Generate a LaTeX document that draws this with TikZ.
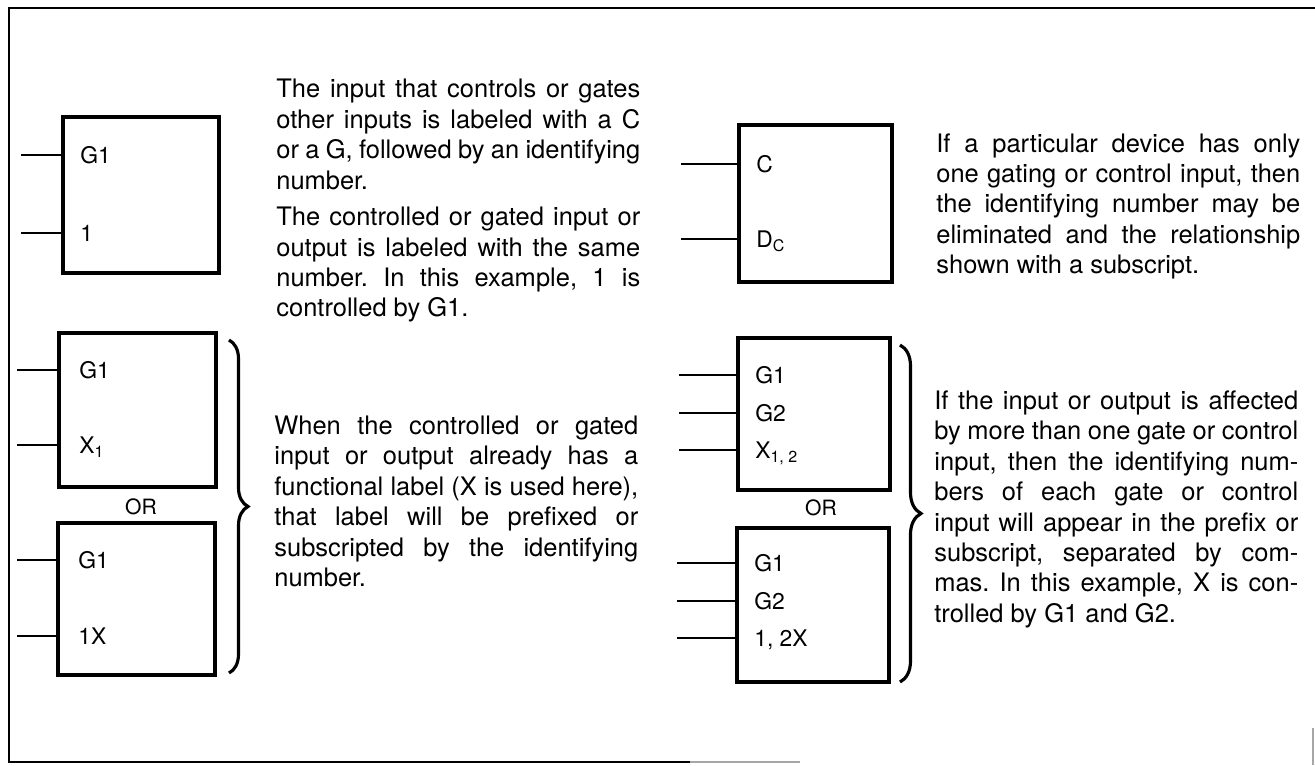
\documentclass[tikz,border=0pt]{standalone}
\usepackage{fontspec}
\setmainfont{TeX Gyre Heros}
\usetikzlibrary{decorations.pathreplacing}
\tolerance=9999
\hbadness=10000
\frenchspacing

\begin{document}
\begin{tikzpicture}[
  x=0.02cm, y=-0.02cm,
  blk/.style={draw=black, line width=2.4pt, inner sep=0pt},
  wire/.style={draw=black, line width=1.1pt},
  lbl/.style={anchor=base west, inner sep=0pt, font=\fontsize{13}{15}\selectfont},
  orl/.style={inner sep=0pt, font=\fontsize{12}{14}\selectfont},
  txt/.style={anchor=north west, inner sep=0pt, text width=7.28cm, align=justify,
              font=\fontsize{14.5}{17.3}\selectfont},
  brc/.style={draw=black, line width=1.8pt, decorate, decoration={brace, amplitude=#1}},
  frm/.style={draw=black, line width=1.5pt}
]
\useasboundingbox (0,0) rectangle (1315,765);

% ================================================= frame
\draw[frm] (690,762) -- (9,762) -- (9,8) -- (1315,8);
\draw[frm, draw=black!35] (690,762) -- (800,762);
\draw[frm, draw=black!35, line width=0.8pt] (1313,728) -- (1313,765);

% ================================================= 1. gate and gated input
\node[blk, minimum width=3.12cm, minimum height=3.12cm] (b1) at (141,195) {};
\node[lbl] (b1g) at (80,163) {G1};
\node[lbl] (b1n) at (80,241) {1};
\coordinate (i1a) at (21,155);
\coordinate (i1b) at (21,233);
\draw[wire] (i1a) -- (i1a -| b1.west);
\draw[wire] (i1b) -- (i1b -| b1.west);
\node[txt] (p1) at (276,79)
  {The input that controls or gates\linebreak
   other inputs is labeled with a C\linebreak
   or a G, followed by an identifying\linebreak
   number.\par\vspace{3.5pt}
   The controlled or gated input or\linebreak
   output is labeled with the same\linebreak
   number. In this example, 1 is\linebreak
   controlled by G1.};

% ================================================= 2. functional label, prefix or subscript
\node[blk, minimum width=3.14cm, minimum height=3.08cm] (b2) at (137.5,410) {};
\node[lbl] (b2g) at (79,378) {G1};
\node[lbl] (b2x) at (79,453) {X\textsubscript{1}};
\coordinate (i2a) at (17,370);
\coordinate (i2b) at (17,445);
\draw[wire] (i2a) -- (i2a -| b2.west);
\draw[wire] (i2b) -- (i2b -| b2.west);
\node[orl] (or1) at (141,507) {OR};
\node[blk, minimum width=3.14cm, minimum height=3.04cm] (b3) at (136.5,599) {};
\node[lbl] (b3g) at (78,568) {G1};
\node[lbl] (b3x) at (78,644) {1X};
\coordinate (i3a) at (17,560);
\coordinate (i3b) at (17,636);
\draw[wire] (i3a) -- (i3a -| b3.west);
\draw[wire] (i3b) -- (i3b -| b3.west);
\coordinate (k1a) at (229,340);
\coordinate (k1b) at (229,673);
\draw[brc=0.38cm] (k1a) -- (k1b);
\node[txt] (p2) at (274,415.5)
  {When the controlled or gated\linebreak
   input or output already has a\linebreak
   functional label (X is used here),\linebreak
   that label will be prefixed or\linebreak
   subscripted by the identifying\linebreak
   number.};

% ================================================= 3. single control, subscript only
\node[blk, minimum width=3.06cm, minimum height=3.14cm] (r1) at (815.5,203.5) {};
\node[lbl] (r1c) at (756,172) {C};
\node[lbl] (r1d) at (756,247) {D\textsubscript{C}};
\coordinate (j1a) at (681,164);
\coordinate (j1b) at (681,239);
\draw[wire] (j1a) -- (j1a -| r1.west);
\draw[wire] (j1b) -- (j1b -| r1.west);
\node[txt] (p3) at (936,133)
  {If a particular device has only\linebreak
   one gating or control input, then\linebreak
   the identifying number may be\linebreak
   eliminated and the relationship\linebreak
   shown with a subscript.};

% ================================================= 4. two gates on one input
\node[blk, minimum width=3.04cm, minimum height=3.04cm] (r2) at (814,414) {};
\node[lbl] (r2g) at (755,383) {G1};
\node[lbl] (r2h) at (755,421) {G2};
\node[lbl] (r2x) at (755,458) {X\textsubscript{1, 2}};
\coordinate (j2a) at (679,375);
\coordinate (j2b) at (679,413);
\coordinate (j2c) at (679,450);
\draw[wire] (j2a) -- (j2a -| r2.west);
\draw[wire] (j2b) -- (j2b -| r2.west);
\draw[wire] (j2c) -- (j2c -| r2.west);
\node[orl] (or2) at (821,508) {OR};
\node[blk, minimum width=3.04cm, minimum height=3.08cm] (r3) at (813,605) {};
\node[lbl] (r3g) at (754,571) {G1};
\node[lbl] (r3h) at (754,609) {G2};
\node[lbl] (r3x) at (754,646) {1, 2X};
\coordinate (j3a) at (677,563);
\coordinate (j3b) at (677,601);
\coordinate (j3c) at (677,638);
\draw[wire] (j3a) -- (j3a -| r3.west);
\draw[wire] (j3b) -- (j3b -| r3.west);
\draw[wire] (j3c) -- (j3c -| r3.west);
\coordinate (k2a) at (900,345);
\coordinate (k2b) at (900,682);
\draw[brc=0.42cm] (k2a) -- (k2b);
\node[txt] (p4) at (934,390.5)
  {If the input or output is affected\linebreak
   by more than one gate or control\linebreak
   input, then the identifying num-\linebreak
   bers of each gate or control\linebreak
   input will appear in the prefix or\linebreak
   subscript, separated by com-\linebreak
   mas. In this example, X is con-\linebreak
   trolled by G1 and G2.};

\end{tikzpicture}
\end{document}
